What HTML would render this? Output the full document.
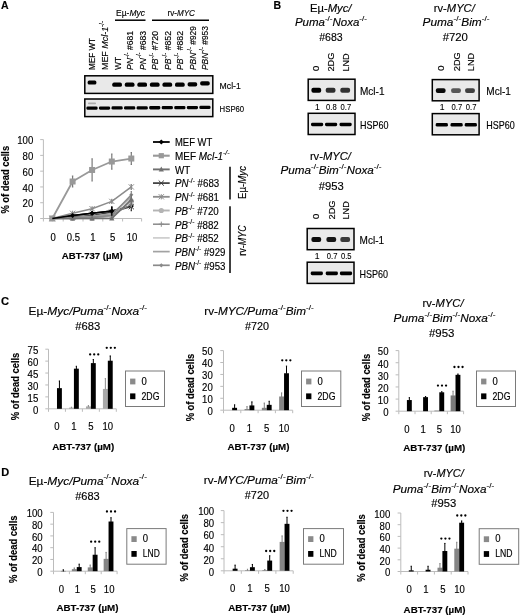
<!DOCTYPE html>
<html><head><meta charset="utf-8"><style>
html,body{margin:0;padding:0;background:#fff;}
body{width:520px;height:615px;overflow:hidden;}
svg{display:block;font-family:"Liberation Sans", sans-serif;filter:blur(0.35px);} text{stroke:#000;stroke-width:0.15px;}
</style></head><body>
<svg width="520" height="615" viewBox="0 0 520 615">
<defs><filter id="bl" x="-30%" y="-80%" width="160%" height="260%"><feGaussianBlur stdDeviation="0.65"/></filter></defs>
<rect width="520" height="615" fill="#fff"/>
<text x="1" y="9" font-size="10.5" text-anchor="start" font-weight="bold" fill="#000"><tspan>A</tspan></text>
<text x="273.5" y="9" font-size="10.5" text-anchor="start" font-weight="bold" fill="#000"><tspan>B</tspan></text>
<text x="0.9" y="305.4" font-size="11.2" text-anchor="start" font-weight="bold" fill="#000"><tspan>C</tspan></text>
<text x="1.3" y="475.8" font-size="11.0" text-anchor="start" font-weight="bold" fill="#000"><tspan>D</tspan></text>
<text x="116" y="15.5" font-size="9.5" text-anchor="start" font-weight="normal" fill="#000" textLength="29" lengthAdjust="spacingAndGlyphs"><tspan>Eµ-</tspan><tspan font-style="italic">Myc</tspan></text>
<text x="167.5" y="15.5" font-size="9.5" text-anchor="start" font-weight="normal" fill="#000" textLength="27.5" lengthAdjust="spacingAndGlyphs"><tspan>rv-</tspan><tspan font-style="italic">MYC</tspan></text>
<line x1="115" y1="20.2" x2="145.5" y2="20.2" stroke="#000" stroke-width="1.5"/>
<line x1="152" y1="20.2" x2="209" y2="20.2" stroke="#000" stroke-width="1.5"/>
<text x="0" y="0" transform="translate(95.4,70) rotate(-90)" font-size="9.2" text-anchor="start" font-weight="normal" fill="#000" textLength="32" lengthAdjust="spacingAndGlyphs"><tspan>MEF WT</tspan></text>
<text x="0" y="0" transform="translate(107.95,70) rotate(-90)" font-size="9.2" text-anchor="start" font-weight="normal" fill="#000" textLength="49" lengthAdjust="spacingAndGlyphs"><tspan>MEF </tspan><tspan font-style="italic">Mcl-1</tspan><tspan font-size="6.44" dy="-4.14">-/-</tspan></text>
<text x="0" y="0" transform="translate(120.5,70) rotate(-90)" font-size="9.2" text-anchor="start" font-weight="normal" fill="#000" textLength="13" lengthAdjust="spacingAndGlyphs"><tspan>WT</tspan></text>
<text x="0" y="0" transform="translate(133.05,70) rotate(-90)" font-size="9.2" text-anchor="start" font-weight="normal" fill="#000" textLength="39" lengthAdjust="spacingAndGlyphs"><tspan font-style="italic">PN</tspan><tspan font-size="6.44" dy="-4.14">-/-</tspan><tspan dy="4.14"> #681</tspan></text>
<text x="0" y="0" transform="translate(145.6,70) rotate(-90)" font-size="9.2" text-anchor="start" font-weight="normal" fill="#000" textLength="39" lengthAdjust="spacingAndGlyphs"><tspan font-style="italic">PN</tspan><tspan font-size="6.44" dy="-4.14">-/-</tspan><tspan dy="4.14"> #683</tspan></text>
<text x="0" y="0" transform="translate(158.15,70) rotate(-90)" font-size="9.2" text-anchor="start" font-weight="normal" fill="#000" textLength="39" lengthAdjust="spacingAndGlyphs"><tspan font-style="italic">PB</tspan><tspan font-size="6.44" dy="-4.14">-/-</tspan><tspan dy="4.14"> #720</tspan></text>
<text x="0" y="0" transform="translate(170.70000000000002,70) rotate(-90)" font-size="9.2" text-anchor="start" font-weight="normal" fill="#000" textLength="39" lengthAdjust="spacingAndGlyphs"><tspan font-style="italic">PB</tspan><tspan font-size="6.44" dy="-4.14">-/-</tspan><tspan dy="4.14"> #852</tspan></text>
<text x="0" y="0" transform="translate(183.25000000000003,70) rotate(-90)" font-size="9.2" text-anchor="start" font-weight="normal" fill="#000" textLength="39" lengthAdjust="spacingAndGlyphs"><tspan font-style="italic">PB</tspan><tspan font-size="6.44" dy="-4.14">-/-</tspan><tspan dy="4.14"> #882</tspan></text>
<text x="0" y="0" transform="translate(195.8,70) rotate(-90)" font-size="9.2" text-anchor="start" font-weight="normal" fill="#000" textLength="44" lengthAdjust="spacingAndGlyphs"><tspan font-style="italic">PBN</tspan><tspan font-size="6.44" dy="-4.14">-/-</tspan><tspan dy="4.14"> #929</tspan></text>
<text x="0" y="0" transform="translate(208.35,70) rotate(-90)" font-size="9.2" text-anchor="start" font-weight="normal" fill="#000" textLength="44" lengthAdjust="spacingAndGlyphs"><tspan font-style="italic">PBN</tspan><tspan font-size="6.44" dy="-4.14">-/-</tspan><tspan dy="4.14"> #953</tspan></text>
<rect x="84.8" y="75.8" width="128" height="17.6" fill="#e9e9e9" stroke="#000" stroke-width="1.5"/>
<rect x="84.8" y="99" width="128" height="17.6" fill="#e9e9e9" stroke="#000" stroke-width="1.5"/>
<rect x="87.60" y="80.60" width="8.80" height="4.00" rx="1.60" fill="#000" opacity="1.0" filter="url(#bl)"/>
<rect x="112.30" y="82.55" width="9.60" height="4.30" rx="1.72" fill="#000" opacity="1.0" filter="url(#bl)"/>
<rect x="124.85" y="82.55" width="9.60" height="4.30" rx="1.72" fill="#000" opacity="1.0" filter="url(#bl)"/>
<rect x="137.40" y="82.55" width="9.60" height="4.30" rx="1.72" fill="#000" opacity="1.0" filter="url(#bl)"/>
<rect x="149.95" y="82.55" width="9.60" height="4.30" rx="1.72" fill="#000" opacity="1.0" filter="url(#bl)"/>
<rect x="162.50" y="82.55" width="9.60" height="4.30" rx="1.72" fill="#000" opacity="1.0" filter="url(#bl)"/>
<rect x="175.05" y="82.55" width="9.60" height="4.30" rx="1.72" fill="#000" opacity="1.0" filter="url(#bl)"/>
<rect x="187.60" y="82.25" width="9.60" height="4.30" rx="1.72" fill="#000" opacity="1.0" filter="url(#bl)"/>
<rect x="200.15" y="81.25" width="9.60" height="4.30" rx="1.72" fill="#000" opacity="1.0" filter="url(#bl)"/>
<rect x="86.40" y="106.45" width="11.20" height="3.30" rx="1.32" fill="#000" opacity="1.0" filter="url(#bl)"/>
<rect x="98.95" y="106.38" width="11.20" height="3.30" rx="1.32" fill="#000" opacity="1.0" filter="url(#bl)"/>
<rect x="111.50" y="106.31" width="11.20" height="3.30" rx="1.32" fill="#000" opacity="1.0" filter="url(#bl)"/>
<rect x="124.05" y="106.24" width="11.20" height="3.30" rx="1.32" fill="#000" opacity="1.0" filter="url(#bl)"/>
<rect x="136.60" y="106.17" width="11.20" height="3.30" rx="1.32" fill="#000" opacity="1.0" filter="url(#bl)"/>
<rect x="149.15" y="106.10" width="11.20" height="3.30" rx="1.32" fill="#000" opacity="1.0" filter="url(#bl)"/>
<rect x="161.70" y="106.03" width="11.20" height="3.30" rx="1.32" fill="#000" opacity="1.0" filter="url(#bl)"/>
<rect x="174.25" y="105.96" width="11.20" height="3.30" rx="1.32" fill="#000" opacity="1.0" filter="url(#bl)"/>
<rect x="186.80" y="105.89" width="11.20" height="3.30" rx="1.32" fill="#000" opacity="1.0" filter="url(#bl)"/>
<rect x="199.35" y="105.82" width="11.20" height="3.30" rx="1.32" fill="#000" opacity="1.0" filter="url(#bl)"/>
<rect x="88.00" y="102.40" width="8.00" height="1.80" rx="0.72" fill="#000" opacity="0.25" filter="url(#bl)"/>
<text x="219.6" y="88.6" font-size="9.8" text-anchor="start" font-weight="normal" fill="#000" textLength="21.2" lengthAdjust="spacingAndGlyphs"><tspan>Mcl-1</tspan></text>
<text x="219.6" y="111.9" font-size="9.8" text-anchor="start" font-weight="normal" fill="#000" textLength="24.6" lengthAdjust="spacingAndGlyphs"><tspan>HSP60</tspan></text>
<line x1="43.4" y1="139.6" x2="43.4" y2="218.5" stroke="#bcbcbc" stroke-width="1"/>
<line x1="40.199999999999996" y1="218.50" x2="43.4" y2="218.50" stroke="#bcbcbc" stroke-width="1"/>
<text x="33.3" y="223.1" font-size="10.5" text-anchor="end" font-weight="normal" fill="#000" textLength="5.35" lengthAdjust="spacingAndGlyphs"><tspan>0</tspan></text>
<line x1="40.199999999999996" y1="202.72" x2="43.4" y2="202.72" stroke="#bcbcbc" stroke-width="1"/>
<text x="33.3" y="207.32" font-size="10.5" text-anchor="end" font-weight="normal" fill="#000" textLength="10.7" lengthAdjust="spacingAndGlyphs"><tspan>20</tspan></text>
<line x1="40.199999999999996" y1="186.94" x2="43.4" y2="186.94" stroke="#bcbcbc" stroke-width="1"/>
<text x="33.3" y="191.54" font-size="10.5" text-anchor="end" font-weight="normal" fill="#000" textLength="10.7" lengthAdjust="spacingAndGlyphs"><tspan>40</tspan></text>
<line x1="40.199999999999996" y1="171.16" x2="43.4" y2="171.16" stroke="#bcbcbc" stroke-width="1"/>
<text x="33.3" y="175.76" font-size="10.5" text-anchor="end" font-weight="normal" fill="#000" textLength="10.7" lengthAdjust="spacingAndGlyphs"><tspan>60</tspan></text>
<line x1="40.199999999999996" y1="155.38" x2="43.4" y2="155.38" stroke="#bcbcbc" stroke-width="1"/>
<text x="33.3" y="159.98" font-size="10.5" text-anchor="end" font-weight="normal" fill="#000" textLength="10.7" lengthAdjust="spacingAndGlyphs"><tspan>80</tspan></text>
<line x1="40.199999999999996" y1="139.60" x2="43.4" y2="139.60" stroke="#bcbcbc" stroke-width="1"/>
<text x="33.3" y="144.2" font-size="10.5" text-anchor="end" font-weight="normal" fill="#000" textLength="16.049999999999997" lengthAdjust="spacingAndGlyphs"><tspan>100</tspan></text>
<line x1="43.4" y1="218.5" x2="141.6" y2="218.5" stroke="#bcbcbc" stroke-width="1"/>
<line x1="43.40" y1="218.5" x2="43.40" y2="221.5" stroke="#bcbcbc" stroke-width="1"/>
<line x1="63.20" y1="218.5" x2="63.20" y2="221.5" stroke="#bcbcbc" stroke-width="1"/>
<line x1="83.00" y1="218.5" x2="83.00" y2="221.5" stroke="#bcbcbc" stroke-width="1"/>
<line x1="102.80" y1="218.5" x2="102.80" y2="221.5" stroke="#bcbcbc" stroke-width="1"/>
<line x1="122.60" y1="218.5" x2="122.60" y2="221.5" stroke="#bcbcbc" stroke-width="1"/>
<line x1="141.60" y1="218.5" x2="141.60" y2="221.5" stroke="#bcbcbc" stroke-width="1"/>
<text x="53.099999999999994" y="240.5" font-size="10.4" text-anchor="middle" font-weight="normal" fill="#000" textLength="5.3" lengthAdjust="spacingAndGlyphs"><tspan>0</tspan></text>
<text x="73.39999999999999" y="240.5" font-size="10.4" text-anchor="middle" font-weight="normal" fill="#000" textLength="13.2" lengthAdjust="spacingAndGlyphs"><tspan>0.5</tspan></text>
<text x="92.89999999999999" y="240.5" font-size="10.4" text-anchor="middle" font-weight="normal" fill="#000" textLength="5.3" lengthAdjust="spacingAndGlyphs"><tspan>1</tspan></text>
<text x="112.6" y="240.5" font-size="10.4" text-anchor="middle" font-weight="normal" fill="#000" textLength="5.3" lengthAdjust="spacingAndGlyphs"><tspan>5</tspan></text>
<text x="132.10000000000002" y="240.5" font-size="10.4" text-anchor="middle" font-weight="normal" fill="#000" textLength="10.6" lengthAdjust="spacingAndGlyphs"><tspan>10</tspan></text>
<text x="92.3" y="259.4" font-size="9.8" text-anchor="middle" font-weight="bold" fill="#000" textLength="61" lengthAdjust="spacingAndGlyphs"><tspan>ABT-737 (µM)</tspan></text>
<text x="0" y="0" transform="translate(9.0,213.6) rotate(-90)" font-size="10.4" text-anchor="start" font-weight="bold" fill="#000" textLength="67.8" lengthAdjust="spacingAndGlyphs"><tspan>% of dead cells</tspan></text>
<path d="M52.30 218.50L72.60 215.50L92.10 213.29L111.80 211.08L131.30 205.88" fill="none" stroke="#000000" stroke-width="1.5" stroke-linejoin="round"/>
<path d="M52.3 215.9L54.9 218.5L52.3 221.1L49.699999999999996 218.5Z" fill="#000000"/>
<path d="M72.6 212.9018L75.19999999999999 215.5018L72.6 218.1018L70.0 215.5018Z" fill="#000000"/>
<path d="M92.1 212.50L92.1 214.08M91.39999999999999 212.50L92.8 212.50M91.39999999999999 214.08L92.8 214.08" stroke="#000000" stroke-width="1.2"/>
<path d="M92.1 210.6926L94.69999999999999 213.2926L92.1 215.8926L89.5 213.2926Z" fill="#000000"/>
<path d="M111.8 207.14L111.8 215.03M111.1 207.14L112.5 207.14M111.1 215.03L112.5 215.03" stroke="#000000" stroke-width="1.2"/>
<path d="M111.8 208.48340000000002L114.39999999999999 211.0834L111.8 213.6834L109.2 211.0834Z" fill="#000000"/>
<path d="M131.3 203.276L133.9 205.876L131.3 208.476L128.70000000000002 205.876Z" fill="#000000"/>
<path d="M52.30 218.50L72.60 216.92L92.10 215.34L111.80 212.19L131.30 206.66" fill="none" stroke="#3a3a3a" stroke-width="1.4" stroke-linejoin="round"/>
<path d="M49.699999999999996 215.9L54.9 221.1M54.9 215.9L49.699999999999996 221.1" stroke="#3a3a3a" stroke-width="1"/>
<path d="M72.6 216.13L72.6 217.71M71.89999999999999 216.13L73.3 216.13M71.89999999999999 217.71L73.3 217.71" stroke="#3a3a3a" stroke-width="1.2"/>
<path d="M70.0 214.322L75.19999999999999 219.522M75.19999999999999 214.322L70.0 219.522" stroke="#3a3a3a" stroke-width="1"/>
<path d="M92.1 214.56L92.1 216.13M91.39999999999999 214.56L92.8 214.56M91.39999999999999 216.13L92.8 216.13" stroke="#3a3a3a" stroke-width="1.2"/>
<path d="M89.5 212.744L94.69999999999999 217.944M94.69999999999999 212.744L89.5 217.944" stroke="#3a3a3a" stroke-width="1"/>
<path d="M111.8 210.61L111.8 213.77M111.1 210.61L112.5 210.61M111.1 213.77L112.5 213.77" stroke="#3a3a3a" stroke-width="1.2"/>
<path d="M109.2 209.588L114.39999999999999 214.78799999999998M114.39999999999999 209.588L109.2 214.78799999999998" stroke="#3a3a3a" stroke-width="1"/>
<path d="M131.3 202.72L131.3 210.61M130.60000000000002 202.72L132.0 202.72M130.60000000000002 210.61L132.0 210.61" stroke="#3a3a3a" stroke-width="1.2"/>
<path d="M128.70000000000002 204.065L133.9 209.265M133.9 204.065L128.70000000000002 209.265" stroke="#3a3a3a" stroke-width="1"/>
<path d="M52.30 218.50L72.60 217.71L92.10 216.92L111.80 214.56L131.30 197.99" fill="none" stroke="#cdcdcd" stroke-width="1.4" stroke-linejoin="round"/>
<path d="M111.8 213.77L111.8 215.34M111.1 213.77L112.5 213.77M111.1 215.34L112.5 215.34" stroke="#cdcdcd" stroke-width="1.2"/>
<path d="M131.3 195.62L131.3 200.35M130.60000000000002 195.62L132.0 195.62M130.60000000000002 200.35L132.0 200.35" stroke="#cdcdcd" stroke-width="1.2"/>
<path d="M52.30 218.50L72.60 217.71L92.10 216.13L111.80 213.77L131.30 196.41" fill="none" stroke="#a2a2a2" stroke-width="1.4" stroke-linejoin="round"/>
<path d="M111.8 212.98L111.8 214.55M111.1 212.98L112.5 212.98M111.1 214.55L112.5 214.55" stroke="#a2a2a2" stroke-width="1.2"/>
<path d="M131.3 194.04L131.3 198.77M130.60000000000002 194.04L132.0 194.04M130.60000000000002 198.77L132.0 198.77" stroke="#a2a2a2" stroke-width="1.2"/>
<path d="M52.30 218.50L72.60 218.50L92.10 218.50L111.80 216.13L131.30 201.14" fill="none" stroke="#b4b4b4" stroke-width="1.6" stroke-linejoin="round"/>
<circle cx="52.3" cy="218.5" r="2.6" fill="#b4b4b4"/>
<circle cx="72.6" cy="218.5" r="2.6" fill="#b4b4b4"/>
<circle cx="92.1" cy="218.5" r="2.6" fill="#b4b4b4"/>
<path d="M111.8 215.34L111.8 216.92M111.1 215.34L112.5 215.34M111.1 216.92L112.5 216.92" stroke="#b4b4b4" stroke-width="1.2"/>
<circle cx="111.8" cy="216.133" r="2.6" fill="#b4b4b4"/>
<path d="M131.3 198.78L131.3 203.51M130.60000000000002 198.78L132.0 198.78M130.60000000000002 203.51L132.0 203.51" stroke="#b4b4b4" stroke-width="1.2"/>
<circle cx="131.3" cy="201.142" r="2.6" fill="#b4b4b4"/>
<path d="M52.30 218.50L72.60 217.71L92.10 216.92L111.80 215.34L131.30 204.30" fill="none" stroke="#8a8a8a" stroke-width="1.2" stroke-linejoin="round"/>
<path d="M49.699999999999996 218.5L54.9 218.5M52.3 215.9L52.3 221.1" stroke="#8a8a8a" stroke-width="1"/>
<path d="M70.0 217.711L75.19999999999999 217.711M72.6 215.11100000000002L72.6 220.311" stroke="#8a8a8a" stroke-width="1"/>
<path d="M89.5 216.922L94.69999999999999 216.922M92.1 214.322L92.1 219.522" stroke="#8a8a8a" stroke-width="1"/>
<path d="M111.8 214.56L111.8 216.13M111.1 214.56L112.5 214.56M111.1 216.13L112.5 216.13" stroke="#8a8a8a" stroke-width="1.2"/>
<path d="M109.2 215.344L114.39999999999999 215.344M111.8 212.744L111.8 217.944" stroke="#8a8a8a" stroke-width="1"/>
<path d="M131.3 201.93L131.3 206.66M130.60000000000002 201.93L132.0 201.93M130.60000000000002 206.66L132.0 206.66" stroke="#8a8a8a" stroke-width="1.2"/>
<path d="M128.70000000000002 204.298L133.9 204.298M131.3 201.698L131.3 206.898" stroke="#8a8a8a" stroke-width="1"/>
<path d="M52.30 218.50L72.60 218.50L92.10 217.71L111.80 215.34L131.30 194.83" fill="none" stroke="#8a8a8a" stroke-width="1.4" stroke-linejoin="round"/>
<path d="M52.3 216.42L54.379999999999995 218.5L52.3 220.58L50.22 218.5Z" fill="#8a8a8a"/>
<path d="M72.6 216.42L74.67999999999999 218.5L72.6 220.58L70.52 218.5Z" fill="#8a8a8a"/>
<path d="M92.1 215.631L94.17999999999999 217.711L92.1 219.79100000000003L90.02 217.711Z" fill="#8a8a8a"/>
<path d="M111.8 214.56L111.8 216.13M111.1 214.56L112.5 214.56M111.1 216.13L112.5 216.13" stroke="#8a8a8a" stroke-width="1.2"/>
<path d="M111.8 213.26399999999998L113.88 215.344L111.8 217.424L109.72 215.344Z" fill="#8a8a8a"/>
<path d="M131.3 191.67L131.3 197.99M130.60000000000002 191.67L132.0 191.67M130.60000000000002 197.99L132.0 197.99" stroke="#8a8a8a" stroke-width="1.2"/>
<path d="M131.3 192.74999999999997L133.38000000000002 194.82999999999998L131.3 196.91L129.22 194.82999999999998Z" fill="#8a8a8a"/>
<path d="M52.30 218.50L72.60 218.50L92.10 218.50L111.80 218.50L131.30 199.56" fill="none" stroke="#707070" stroke-width="1.6" stroke-linejoin="round"/>
<path d="M52.3 215.5L54.9 220.58L49.699999999999996 220.58Z" fill="#707070"/>
<path d="M72.6 215.5L75.19999999999999 220.58L70.0 220.58Z" fill="#707070"/>
<path d="M92.1 215.5L94.69999999999999 220.58L89.5 220.58Z" fill="#707070"/>
<path d="M111.8 217.71L111.8 219.29M111.1 217.71L112.5 217.71M111.1 219.29L112.5 219.29" stroke="#707070" stroke-width="1.2"/>
<path d="M111.8 215.5L114.39999999999999 220.58L109.2 220.58Z" fill="#707070"/>
<path d="M131.3 194.83L131.3 204.30M130.60000000000002 194.83L132.0 194.83M130.60000000000002 204.30L132.0 204.30" stroke="#707070" stroke-width="1.2"/>
<path d="M131.3 196.564L133.9 201.644L128.70000000000002 201.644Z" fill="#707070"/>
<path d="M52.30 218.50L72.60 213.29L92.10 208.72L111.80 201.38L131.30 186.94" fill="none" stroke="#8c8c8c" stroke-width="1.5" stroke-linejoin="round"/>
<path d="M49.699999999999996 215.9L54.9 221.1M54.9 215.9L49.699999999999996 221.1M52.3 215.9L52.3 221.1" stroke="#8c8c8c" stroke-width="1"/>
<path d="M72.6 212.50L72.6 214.08M71.89999999999999 212.50L73.3 212.50M71.89999999999999 214.08L73.3 214.08" stroke="#8c8c8c" stroke-width="1.2"/>
<path d="M70.0 210.6926L75.19999999999999 215.8926M75.19999999999999 210.6926L70.0 215.8926M72.6 210.6926L72.6 215.8926" stroke="#8c8c8c" stroke-width="1"/>
<path d="M92.1 207.93L92.1 209.51M91.39999999999999 207.93L92.8 207.93M91.39999999999999 209.51L92.8 209.51" stroke="#8c8c8c" stroke-width="1.2"/>
<path d="M89.5 206.1164L94.69999999999999 211.3164M94.69999999999999 206.1164L89.5 211.3164M92.1 206.1164L92.1 211.3164" stroke="#8c8c8c" stroke-width="1"/>
<path d="M111.8 199.80L111.8 202.96M111.1 199.80L112.5 199.80M111.1 202.96L112.5 202.96" stroke="#8c8c8c" stroke-width="1.2"/>
<path d="M109.2 198.77870000000001L114.39999999999999 203.9787M114.39999999999999 198.77870000000001L109.2 203.9787M111.8 198.77870000000001L111.8 203.9787" stroke="#8c8c8c" stroke-width="1"/>
<path d="M131.3 184.57L131.3 189.31M130.60000000000002 184.57L132.0 184.57M130.60000000000002 189.31L132.0 189.31" stroke="#8c8c8c" stroke-width="1.2"/>
<path d="M128.70000000000002 184.34L133.9 189.54M133.9 184.34L128.70000000000002 189.54M131.3 184.34L131.3 189.54" stroke="#8c8c8c" stroke-width="1"/>
<path d="M52.30 218.50L72.60 181.50L92.10 169.98L111.80 161.53L131.30 158.54" fill="none" stroke="#999999" stroke-width="1.8" stroke-linejoin="round"/>
<rect x="49.3" y="215.5" width="6.0" height="6.0" fill="#999999"/>
<path d="M72.6 176.13L72.6 186.86M71.89999999999999 176.13L73.3 176.13M71.89999999999999 186.86L73.3 186.86" stroke="#7a7a7a" stroke-width="1.2"/>
<rect x="69.6" y="178.4959" width="6.0" height="6.0" fill="#999999"/>
<path d="M92.1 158.93L92.1 181.02M91.39999999999999 158.93L92.8 158.93M91.39999999999999 181.02L92.8 181.02" stroke="#7a7a7a" stroke-width="1.2"/>
<rect x="89.1" y="166.9765" width="6.0" height="6.0" fill="#999999"/>
<path d="M111.8 154.04L111.8 169.03M111.1 154.04L112.5 154.04M111.1 169.03L112.5 169.03" stroke="#7a7a7a" stroke-width="1.2"/>
<rect x="108.8" y="158.5342" width="6.0" height="6.0" fill="#999999"/>
<path d="M131.3 152.70L131.3 164.37M130.60000000000002 152.70L132.0 152.70M130.60000000000002 164.37L132.0 164.37" stroke="#7a7a7a" stroke-width="1.2"/>
<rect x="128.3" y="155.536" width="6.0" height="6.0" fill="#999999"/>
<path d="M52.30 218.50L72.60 215.50L92.10 213.29L111.80 211.08" fill="none" stroke="#000" stroke-width="1.5" stroke-linejoin="round"/>
<path d="M72.6 212.9018L75.19999999999999 215.5018L72.6 218.1018L70.0 215.5018Z" fill="#000"/>
<path d="M92.1 212.50L92.1 214.08M91.39999999999999 212.50L92.8 212.50M91.39999999999999 214.08L92.8 214.08" stroke="#000" stroke-width="1.2"/>
<path d="M92.1 210.6926L94.69999999999999 213.2926L92.1 215.8926L89.5 213.2926Z" fill="#000"/>
<path d="M111.8 207.14L111.8 215.03M111.1 207.14L112.5 207.14M111.1 215.03L112.5 215.03" stroke="#000" stroke-width="1.2"/>
<path d="M111.8 208.48340000000002L114.39999999999999 211.0834L111.8 213.6834L109.2 211.0834Z" fill="#000"/>
<line x1="153" y1="142.00" x2="169.7" y2="142.00" stroke="#000000" stroke-width="1.8"/>
<path d="M161.3 139.4L163.9 142.0L161.3 144.6L158.70000000000002 142.0Z" fill="#000000"/>
<text x="175" y="146.3" font-size="10.2" text-anchor="start" font-weight="normal" fill="#000" textLength="37.2" lengthAdjust="spacingAndGlyphs"><tspan>MEF WT</tspan></text>
<line x1="153" y1="155.70" x2="169.7" y2="155.70" stroke="#999999" stroke-width="2.1"/>
<rect x="158.70000000000002" y="153.1" width="5.2" height="5.2" fill="#999999"/>
<text x="175" y="160.0" font-size="10.2" text-anchor="start" font-weight="normal" fill="#000" textLength="54.6" lengthAdjust="spacingAndGlyphs"><tspan>MEF </tspan><tspan font-style="italic">Mcl-1</tspan><tspan font-size="7.14" font-style="italic" dy="-4.59">-/-</tspan></text>
<line x1="153" y1="169.40" x2="169.7" y2="169.40" stroke="#707070" stroke-width="1.9000000000000001"/>
<path d="M161.3 166.4L163.9 171.48000000000002L158.70000000000002 171.48000000000002Z" fill="#707070"/>
<text x="175" y="173.70000000000002" font-size="10.2" text-anchor="start" font-weight="normal" fill="#000" textLength="15.3" lengthAdjust="spacingAndGlyphs"><tspan>WT</tspan></text>
<line x1="153" y1="183.10" x2="169.7" y2="183.10" stroke="#3a3a3a" stroke-width="1.7"/>
<path d="M158.70000000000002 180.5L163.9 185.7M163.9 180.5L158.70000000000002 185.7" stroke="#3a3a3a" stroke-width="1"/>
<text x="175" y="187.4" font-size="10.2" text-anchor="start" font-weight="normal" fill="#000" textLength="44.2" lengthAdjust="spacingAndGlyphs"><tspan font-style="italic">PN</tspan><tspan font-size="7.14" dy="-4.59">-/-</tspan><tspan dy="4.59"> #683</tspan></text>
<line x1="153" y1="196.80" x2="169.7" y2="196.80" stroke="#8c8c8c" stroke-width="1.8"/>
<path d="M158.70000000000002 194.20000000000002L163.9 199.4M163.9 194.20000000000002L158.70000000000002 199.4M161.3 194.20000000000002L161.3 199.4" stroke="#8c8c8c" stroke-width="1"/>
<text x="175" y="201.10000000000002" font-size="10.2" text-anchor="start" font-weight="normal" fill="#000" textLength="44" lengthAdjust="spacingAndGlyphs"><tspan font-style="italic">PN</tspan><tspan font-size="7.14" dy="-4.59">-/-</tspan><tspan dy="4.59"> #681</tspan></text>
<line x1="153" y1="210.50" x2="169.7" y2="210.50" stroke="#b4b4b4" stroke-width="1.9000000000000001"/>
<circle cx="161.3" cy="210.5" r="2.6" fill="#b4b4b4"/>
<text x="175" y="214.8" font-size="10.2" text-anchor="start" font-weight="normal" fill="#000" textLength="43.8" lengthAdjust="spacingAndGlyphs"><tspan font-style="italic">PB</tspan><tspan font-size="7.14" dy="-4.59">-/-</tspan><tspan dy="4.59"> #720</tspan></text>
<line x1="153" y1="224.20" x2="169.7" y2="224.20" stroke="#8a8a8a" stroke-width="1.5"/>
<path d="M158.70000000000002 224.2L163.9 224.2M161.3 221.6L161.3 226.79999999999998" stroke="#8a8a8a" stroke-width="1"/>
<text x="175" y="228.5" font-size="10.2" text-anchor="start" font-weight="normal" fill="#000" textLength="43.8" lengthAdjust="spacingAndGlyphs"><tspan font-style="italic">PB</tspan><tspan font-size="7.14" dy="-4.59">-/-</tspan><tspan dy="4.59"> #882</tspan></text>
<line x1="153" y1="237.90" x2="169.7" y2="237.90" stroke="#cdcdcd" stroke-width="1.7"/>
<text x="175" y="242.2" font-size="10.2" text-anchor="start" font-weight="normal" fill="#000" textLength="43.8" lengthAdjust="spacingAndGlyphs"><tspan font-style="italic">PB</tspan><tspan font-size="7.14" dy="-4.59">-/-</tspan><tspan dy="4.59"> #852</tspan></text>
<line x1="153" y1="251.60" x2="169.7" y2="251.60" stroke="#a2a2a2" stroke-width="1.7"/>
<text x="175" y="255.9" font-size="10.2" text-anchor="start" font-weight="normal" fill="#000" textLength="50.5" lengthAdjust="spacingAndGlyphs"><tspan font-style="italic">PBN</tspan><tspan font-size="7.14" dy="-4.59">-/-</tspan><tspan dy="4.59"> #929</tspan></text>
<line x1="153" y1="265.30" x2="169.7" y2="265.30" stroke="#8a8a8a" stroke-width="1.7"/>
<path d="M161.3 263.22L163.38000000000002 265.3L161.3 267.38L159.22 265.3Z" fill="#8a8a8a"/>
<text x="175" y="269.6" font-size="10.2" text-anchor="start" font-weight="normal" fill="#000" textLength="50.5" lengthAdjust="spacingAndGlyphs"><tspan font-style="italic">PBN</tspan><tspan font-size="7.14" dy="-4.59">-/-</tspan><tspan dy="4.59"> #953</tspan></text>
<line x1="230" y1="166.7" x2="230" y2="199.4" stroke="#000" stroke-width="1.5"/>
<line x1="230" y1="206.3" x2="230" y2="273" stroke="#000" stroke-width="1.5"/>
<text x="0" y="0" transform="translate(246.4,182.5) rotate(-90)" font-size="10.6" text-anchor="middle" font-weight="normal" fill="#000" textLength="33" lengthAdjust="spacingAndGlyphs"><tspan>Eµ-</tspan><tspan font-style="italic">Myc</tspan></text>
<text x="0" y="0" transform="translate(246.4,240.4) rotate(-90)" font-size="10.6" text-anchor="middle" font-weight="normal" fill="#000" textLength="30.5" lengthAdjust="spacingAndGlyphs"><tspan>rv-</tspan><tspan font-style="italic">MYC</tspan></text>
<text x="330.7" y="11.5" font-size="11.3" text-anchor="middle" font-weight="normal" fill="#000" textLength="41.5" lengthAdjust="spacingAndGlyphs"><tspan>Eµ-</tspan><tspan font-style="italic">Myc/</tspan></text>
<text x="330.9" y="26.0" font-size="11.3" text-anchor="middle" font-weight="normal" fill="#000" textLength="72" lengthAdjust="spacingAndGlyphs"><tspan font-style="italic">Puma</tspan><tspan font-size="7.91" dy="-5.09">-/-</tspan><tspan font-style="italic" dy="5.09">Noxa</tspan><tspan font-size="7.91" dy="-5.09">-/-</tspan></text>
<text x="331.0" y="40.8" font-size="11.3" text-anchor="middle" font-weight="normal" fill="#000" textLength="23.5" lengthAdjust="spacingAndGlyphs"><tspan>#683</tspan></text>
<text x="0" y="0" transform="translate(319.3,71.3) rotate(-90)" font-size="9.0" text-anchor="start" font-weight="normal" fill="#000" textLength="5.6" lengthAdjust="spacingAndGlyphs"><tspan>0</tspan></text>
<text x="0" y="0" transform="translate(334.1,71.6) rotate(-90)" font-size="9.0" text-anchor="start" font-weight="normal" fill="#000" textLength="19" lengthAdjust="spacingAndGlyphs"><tspan>2DG</tspan></text>
<text x="0" y="0" transform="translate(348.6,71.6) rotate(-90)" font-size="9.0" text-anchor="start" font-weight="normal" fill="#000" textLength="18.3" lengthAdjust="spacingAndGlyphs"><tspan>LND</tspan></text>
<rect x="308.2" y="79.2" width="46.8" height="21.2" fill="#e9e9e9" stroke="#000" stroke-width="1.5"/>
<rect x="308.2" y="113.3" width="46.8" height="21.2" fill="#e9e9e9" stroke="#000" stroke-width="1.5"/>
<rect x="311.40" y="87.75" width="9.80" height="4.90" rx="1.96" fill="#000" opacity="1.0" filter="url(#bl)"/>
<rect x="325.70" y="87.75" width="9.80" height="4.90" rx="1.96" fill="#000" opacity="0.8" filter="url(#bl)"/>
<rect x="340.30" y="87.75" width="9.80" height="4.90" rx="1.96" fill="#000" opacity="0.78" filter="url(#bl)"/>
<rect x="311.00" y="122.70" width="12.20" height="3.60" rx="1.44" fill="#000" opacity="1.0" filter="url(#bl)"/>
<rect x="325.00" y="122.70" width="12.20" height="3.60" rx="1.44" fill="#000" opacity="1.0" filter="url(#bl)"/>
<rect x="339.50" y="122.70" width="12.20" height="3.60" rx="1.44" fill="#000" opacity="1.0" filter="url(#bl)"/>
<text x="317.4" y="109.6" font-size="8.6" text-anchor="middle" font-weight="normal" fill="#000" style="stroke-width:0.1px"><tspan>1</tspan></text>
<text x="331.4" y="109.6" font-size="8.6" text-anchor="middle" font-weight="normal" fill="#000" textLength="10.6" lengthAdjust="spacingAndGlyphs" style="stroke-width:0.1px"><tspan>0.8</tspan></text>
<text x="345.9" y="109.6" font-size="8.6" text-anchor="middle" font-weight="normal" fill="#000" textLength="10.6" lengthAdjust="spacingAndGlyphs" style="stroke-width:0.1px"><tspan>0.7</tspan></text>
<text x="360.0" y="94.5" font-size="10.5" text-anchor="start" font-weight="normal" fill="#000" textLength="24.5" lengthAdjust="spacingAndGlyphs"><tspan>Mcl-1</tspan></text>
<text x="360.0" y="128.9" font-size="10.5" text-anchor="start" font-weight="normal" fill="#000" textLength="28.5" lengthAdjust="spacingAndGlyphs"><tspan>HSP60</tspan></text>
<text x="454.3" y="11.6" font-size="11.3" text-anchor="middle" font-weight="normal" fill="#000" textLength="41" lengthAdjust="spacingAndGlyphs"><tspan>rv-</tspan><tspan font-style="italic">MYC/</tspan></text>
<text x="456.0" y="25.6" font-size="11.3" text-anchor="middle" font-weight="normal" fill="#000" textLength="67" lengthAdjust="spacingAndGlyphs"><tspan font-style="italic">Puma</tspan><tspan font-size="7.91" dy="-5.09">-/-</tspan><tspan font-style="italic" dy="5.09">Bim</tspan><tspan font-size="7.91" dy="-5.09">-/-</tspan></text>
<text x="455.3" y="41.0" font-size="11.3" text-anchor="middle" font-weight="normal" fill="#000" textLength="25.3" lengthAdjust="spacingAndGlyphs"><tspan>#720</tspan></text>
<text x="0" y="0" transform="translate(444.0,70.9) rotate(-90)" font-size="9.0" text-anchor="start" font-weight="normal" fill="#000" textLength="5.6" lengthAdjust="spacingAndGlyphs"><tspan>0</tspan></text>
<text x="0" y="0" transform="translate(459.6,71.2) rotate(-90)" font-size="9.0" text-anchor="start" font-weight="normal" fill="#000" textLength="19" lengthAdjust="spacingAndGlyphs"><tspan>2DG</tspan></text>
<text x="0" y="0" transform="translate(473.8,71.2) rotate(-90)" font-size="9.0" text-anchor="start" font-weight="normal" fill="#000" textLength="18.3" lengthAdjust="spacingAndGlyphs"><tspan>LND</tspan></text>
<rect x="432.3" y="79.6" width="46.8" height="21.2" fill="#e9e9e9" stroke="#000" stroke-width="1.5"/>
<rect x="432.3" y="113.6" width="46.8" height="21.2" fill="#e9e9e9" stroke="#000" stroke-width="1.5"/>
<rect x="435.80" y="88.15" width="9.80" height="4.90" rx="1.96" fill="#000" opacity="0.95" filter="url(#bl)"/>
<rect x="451.10" y="88.15" width="9.80" height="4.90" rx="1.96" fill="#000" opacity="0.62" filter="url(#bl)"/>
<rect x="465.10" y="88.15" width="9.80" height="4.90" rx="1.96" fill="#000" opacity="0.72" filter="url(#bl)"/>
<rect x="435.70" y="123.00" width="12.20" height="3.60" rx="1.44" fill="#000" opacity="1.0" filter="url(#bl)"/>
<rect x="450.50" y="123.00" width="12.20" height="3.60" rx="1.44" fill="#000" opacity="1.0" filter="url(#bl)"/>
<rect x="464.70" y="123.00" width="12.20" height="3.60" rx="1.44" fill="#000" opacity="1.0" filter="url(#bl)"/>
<text x="442.09999999999997" y="109.6" font-size="8.6" text-anchor="middle" font-weight="normal" fill="#000" style="stroke-width:0.1px"><tspan>1</tspan></text>
<text x="456.9" y="109.6" font-size="8.6" text-anchor="middle" font-weight="normal" fill="#000" textLength="10.6" lengthAdjust="spacingAndGlyphs" style="stroke-width:0.1px"><tspan>0.7</tspan></text>
<text x="471.09999999999997" y="109.6" font-size="8.6" text-anchor="middle" font-weight="normal" fill="#000" textLength="10.6" lengthAdjust="spacingAndGlyphs" style="stroke-width:0.1px"><tspan>0.7</tspan></text>
<text x="486.3" y="94.89999999999999" font-size="10.5" text-anchor="start" font-weight="normal" fill="#000" textLength="24.5" lengthAdjust="spacingAndGlyphs"><tspan>Mcl-1</tspan></text>
<text x="486.3" y="129.2" font-size="10.5" text-anchor="start" font-weight="normal" fill="#000" textLength="28.5" lengthAdjust="spacingAndGlyphs"><tspan>HSP60</tspan></text>
<text x="330.4" y="159.5" font-size="11.3" text-anchor="middle" font-weight="normal" fill="#000" textLength="41" lengthAdjust="spacingAndGlyphs"><tspan>rv-</tspan><tspan font-style="italic">MYC/</tspan></text>
<text x="331.0" y="174.4" font-size="11.3" text-anchor="middle" font-weight="normal" fill="#000" textLength="101" lengthAdjust="spacingAndGlyphs"><tspan font-style="italic">Puma</tspan><tspan font-size="7.91" dy="-5.09">-/-</tspan><tspan font-style="italic" dy="5.09">Bim</tspan><tspan font-size="7.91" dy="-5.09">-/-</tspan><tspan font-style="italic" dy="5.09">Noxa</tspan><tspan font-size="7.91" dy="-5.09">-/-</tspan></text>
<text x="331.2" y="189.5" font-size="11.3" text-anchor="middle" font-weight="normal" fill="#000" textLength="25" lengthAdjust="spacingAndGlyphs"><tspan>#953</tspan></text>
<text x="0" y="0" transform="translate(319.0,219.2) rotate(-90)" font-size="9.0" text-anchor="start" font-weight="normal" fill="#000" textLength="5.6" lengthAdjust="spacingAndGlyphs"><tspan>0</tspan></text>
<text x="0" y="0" transform="translate(334.8,219.5) rotate(-90)" font-size="9.0" text-anchor="start" font-weight="normal" fill="#000" textLength="19" lengthAdjust="spacingAndGlyphs"><tspan>2DG</tspan></text>
<text x="0" y="0" transform="translate(349.0,219.5) rotate(-90)" font-size="9.0" text-anchor="start" font-weight="normal" fill="#000" textLength="18.3" lengthAdjust="spacingAndGlyphs"><tspan>LND</tspan></text>
<rect x="307.2" y="228.5" width="46.8" height="21.2" fill="#e9e9e9" stroke="#000" stroke-width="1.5"/>
<rect x="307.2" y="262.2" width="46.8" height="21.2" fill="#e9e9e9" stroke="#000" stroke-width="1.5"/>
<rect x="311.40" y="237.05" width="9.80" height="4.90" rx="1.96" fill="#000" opacity="0.95" filter="url(#bl)"/>
<rect x="326.40" y="237.05" width="9.80" height="4.90" rx="1.96" fill="#000" opacity="0.9" filter="url(#bl)"/>
<rect x="340.30" y="237.05" width="9.80" height="4.90" rx="1.96" fill="#000" opacity="0.75" filter="url(#bl)"/>
<rect x="310.70" y="271.60" width="12.20" height="3.60" rx="1.44" fill="#000" opacity="1.0" filter="url(#bl)"/>
<rect x="325.70" y="271.60" width="12.20" height="3.60" rx="1.44" fill="#000" opacity="1.0" filter="url(#bl)"/>
<rect x="339.90" y="271.60" width="12.20" height="3.60" rx="1.44" fill="#000" opacity="1.0" filter="url(#bl)"/>
<text x="317.09999999999997" y="259.3" font-size="8.6" text-anchor="middle" font-weight="normal" fill="#000" style="stroke-width:0.1px"><tspan>1</tspan></text>
<text x="332.09999999999997" y="259.3" font-size="8.6" text-anchor="middle" font-weight="normal" fill="#000" textLength="10.6" lengthAdjust="spacingAndGlyphs" style="stroke-width:0.1px"><tspan>0.7</tspan></text>
<text x="346.29999999999995" y="259.3" font-size="8.6" text-anchor="middle" font-weight="normal" fill="#000" textLength="10.6" lengthAdjust="spacingAndGlyphs" style="stroke-width:0.1px"><tspan>0.5</tspan></text>
<text x="359.6" y="243.8" font-size="10.5" text-anchor="start" font-weight="normal" fill="#000" textLength="24.5" lengthAdjust="spacingAndGlyphs"><tspan>Mcl-1</tspan></text>
<text x="359.6" y="277.8" font-size="10.5" text-anchor="start" font-weight="normal" fill="#000" textLength="28.5" lengthAdjust="spacingAndGlyphs"><tspan>HSP60</tspan></text>
<line x1="48.5" y1="349.2" x2="48.5" y2="408.8" stroke="#bcbcbc" stroke-width="1"/>
<line x1="45.3" y1="408.80" x2="48.5" y2="408.80" stroke="#bcbcbc" stroke-width="1"/>
<text x="38.3" y="413.6" font-size="10.5" text-anchor="end" font-weight="normal" fill="#000" textLength="5.35" lengthAdjust="spacingAndGlyphs"><tspan>0</tspan></text>
<line x1="45.3" y1="396.88" x2="48.5" y2="396.88" stroke="#bcbcbc" stroke-width="1"/>
<text x="38.3" y="401.68" font-size="10.5" text-anchor="end" font-weight="normal" fill="#000" textLength="10.7" lengthAdjust="spacingAndGlyphs"><tspan>15</tspan></text>
<line x1="45.3" y1="384.96" x2="48.5" y2="384.96" stroke="#bcbcbc" stroke-width="1"/>
<text x="38.3" y="389.76" font-size="10.5" text-anchor="end" font-weight="normal" fill="#000" textLength="10.7" lengthAdjust="spacingAndGlyphs"><tspan>30</tspan></text>
<line x1="45.3" y1="373.04" x2="48.5" y2="373.04" stroke="#bcbcbc" stroke-width="1"/>
<text x="38.3" y="377.84000000000003" font-size="10.5" text-anchor="end" font-weight="normal" fill="#000" textLength="10.7" lengthAdjust="spacingAndGlyphs"><tspan>45</tspan></text>
<line x1="45.3" y1="361.12" x2="48.5" y2="361.12" stroke="#bcbcbc" stroke-width="1"/>
<text x="38.3" y="365.92" font-size="10.5" text-anchor="end" font-weight="normal" fill="#000" textLength="10.7" lengthAdjust="spacingAndGlyphs"><tspan>60</tspan></text>
<line x1="45.3" y1="349.20" x2="48.5" y2="349.20" stroke="#bcbcbc" stroke-width="1"/>
<text x="38.3" y="354.0" font-size="10.5" text-anchor="end" font-weight="normal" fill="#000" textLength="10.7" lengthAdjust="spacingAndGlyphs"><tspan>75</tspan></text>
<line x1="48.5" y1="408.8" x2="116.30" y2="408.8" stroke="#bcbcbc" stroke-width="1"/>
<line x1="48.50" y1="408.8" x2="48.50" y2="411.8" stroke="#bcbcbc" stroke-width="1"/>
<line x1="65.45" y1="408.8" x2="65.45" y2="411.8" stroke="#bcbcbc" stroke-width="1"/>
<line x1="82.40" y1="408.8" x2="82.40" y2="411.8" stroke="#bcbcbc" stroke-width="1"/>
<line x1="99.35" y1="408.8" x2="99.35" y2="411.8" stroke="#bcbcbc" stroke-width="1"/>
<line x1="116.30" y1="408.8" x2="116.30" y2="411.8" stroke="#bcbcbc" stroke-width="1"/>
<rect x="56.98" y="388.14" width="4.9" height="20.66" fill="#000"/>
<path d="M59.43 388.64L59.43 380.99M58.83 380.99L60.03 380.99" stroke="#000" stroke-width="1"/>
<rect x="69.02" y="407.61" width="4.9" height="1.19" fill="#a8a8a8"/>
<path d="M71.47 408.11L71.47 407.21M70.88 407.21L72.07 407.21" stroke="#8a8a8a" stroke-width="1"/>
<rect x="73.92" y="368.67" width="4.9" height="40.13" fill="#000"/>
<path d="M76.38 369.17L76.38 366.29M75.78 366.29L76.97 366.29" stroke="#000" stroke-width="1"/>
<rect x="85.97" y="406.42" width="4.9" height="2.38" fill="#a8a8a8"/>
<path d="M88.42 406.92L88.42 405.62M87.83 405.62L89.02 405.62" stroke="#8a8a8a" stroke-width="1"/>
<rect x="90.88" y="363.11" width="4.9" height="45.69" fill="#000"/>
<path d="M93.33 363.61L93.33 359.53M92.73 359.53L93.92 359.53" stroke="#000" stroke-width="1"/>
<rect x="102.92" y="388.93" width="4.9" height="19.87" fill="#a8a8a8"/>
<path d="M105.37 389.43L105.37 378.60M104.77 378.60L105.97 378.60" stroke="#8a8a8a" stroke-width="1"/>
<rect x="107.82" y="360.72" width="4.9" height="48.08" fill="#000"/>
<path d="M110.27 361.22L110.27 355.95M109.67 355.95L110.87 355.95" stroke="#000" stroke-width="1"/>
<circle cx="90.15" cy="354.40" r="1.15" fill="#000"/>
<circle cx="94.20" cy="354.40" r="1.15" fill="#000"/>
<circle cx="98.25" cy="354.40" r="1.15" fill="#000"/>
<circle cx="106.75" cy="347.80" r="1.15" fill="#000"/>
<circle cx="110.80" cy="347.80" r="1.15" fill="#000"/>
<circle cx="114.85" cy="347.80" r="1.15" fill="#000"/>
<text x="56.975" y="430.3" font-size="10.4" text-anchor="middle" font-weight="normal" fill="#000" textLength="5.3" lengthAdjust="spacingAndGlyphs"><tspan>0</tspan></text>
<text x="73.925" y="430.3" font-size="10.4" text-anchor="middle" font-weight="normal" fill="#000" textLength="5.3" lengthAdjust="spacingAndGlyphs"><tspan>1</tspan></text>
<text x="90.875" y="430.3" font-size="10.4" text-anchor="middle" font-weight="normal" fill="#000" textLength="5.3" lengthAdjust="spacingAndGlyphs"><tspan>5</tspan></text>
<text x="107.82499999999999" y="430.3" font-size="10.4" text-anchor="middle" font-weight="normal" fill="#000" textLength="10.6" lengthAdjust="spacingAndGlyphs"><tspan>10</tspan></text>
<text x="83.2" y="450.2" font-size="9.8" text-anchor="middle" font-weight="bold" fill="#000" textLength="62" lengthAdjust="spacingAndGlyphs"><tspan>ABT-737 (µM)</tspan></text>
<text x="0" y="0" transform="translate(18.9,420.2) rotate(-90)" font-size="10.4" text-anchor="start" font-weight="bold" fill="#000" textLength="67.5" lengthAdjust="spacingAndGlyphs"><tspan>% of dead cells</tspan></text>
<rect x="125.5" y="371" width="39" height="35.5" fill="#fff" stroke="#7a7a7a" stroke-width="1"/>
<rect x="130.1" y="378.6" width="5.3" height="5.8" fill="#8a8a8a"/>
<rect x="130.1" y="393.4" width="5.3" height="5.8" fill="#000"/>
<text x="141.5" y="385.0" font-size="10.5" text-anchor="start" font-weight="normal" fill="#000" textLength="5.3" lengthAdjust="spacingAndGlyphs"><tspan>0</tspan></text>
<text x="141.5" y="400.0" font-size="10.5" text-anchor="start" font-weight="normal" fill="#000" textLength="18" lengthAdjust="spacingAndGlyphs"><tspan>2DG</tspan></text>
<text x="87.8" y="315.2" font-size="11.3" text-anchor="middle" font-weight="normal" fill="#000" textLength="118.5" lengthAdjust="spacingAndGlyphs"><tspan>Eµ-</tspan><tspan font-style="italic">Myc/Puma</tspan><tspan font-size="7.91" dy="-5.09">-/-</tspan><tspan font-style="italic" dy="5.09">Noxa</tspan><tspan font-size="7.91" dy="-5.09">-/-</tspan></text>
<text x="87.8" y="330.0" font-size="11.3" text-anchor="middle" font-weight="normal" fill="#000" textLength="25" lengthAdjust="spacingAndGlyphs"><tspan>#683</tspan></text>
<line x1="223.5" y1="350.6" x2="223.5" y2="410.2" stroke="#bcbcbc" stroke-width="1"/>
<line x1="220.3" y1="410.20" x2="223.5" y2="410.20" stroke="#bcbcbc" stroke-width="1"/>
<text x="212.8" y="415.0" font-size="10.5" text-anchor="end" font-weight="normal" fill="#000" textLength="5.35" lengthAdjust="spacingAndGlyphs"><tspan>0</tspan></text>
<line x1="220.3" y1="398.28" x2="223.5" y2="398.28" stroke="#bcbcbc" stroke-width="1"/>
<text x="212.8" y="403.08" font-size="10.5" text-anchor="end" font-weight="normal" fill="#000" textLength="10.7" lengthAdjust="spacingAndGlyphs"><tspan>10</tspan></text>
<line x1="220.3" y1="386.36" x2="223.5" y2="386.36" stroke="#bcbcbc" stroke-width="1"/>
<text x="212.8" y="391.16" font-size="10.5" text-anchor="end" font-weight="normal" fill="#000" textLength="10.7" lengthAdjust="spacingAndGlyphs"><tspan>20</tspan></text>
<line x1="220.3" y1="374.44" x2="223.5" y2="374.44" stroke="#bcbcbc" stroke-width="1"/>
<text x="212.8" y="379.24" font-size="10.5" text-anchor="end" font-weight="normal" fill="#000" textLength="10.7" lengthAdjust="spacingAndGlyphs"><tspan>30</tspan></text>
<line x1="220.3" y1="362.52" x2="223.5" y2="362.52" stroke="#bcbcbc" stroke-width="1"/>
<text x="212.8" y="367.32000000000005" font-size="10.5" text-anchor="end" font-weight="normal" fill="#000" textLength="10.7" lengthAdjust="spacingAndGlyphs"><tspan>40</tspan></text>
<line x1="220.3" y1="350.60" x2="223.5" y2="350.60" stroke="#bcbcbc" stroke-width="1"/>
<text x="212.8" y="355.40000000000003" font-size="10.5" text-anchor="end" font-weight="normal" fill="#000" textLength="10.7" lengthAdjust="spacingAndGlyphs"><tspan>50</tspan></text>
<line x1="223.5" y1="410.2" x2="292.70" y2="410.2" stroke="#bcbcbc" stroke-width="1"/>
<line x1="223.50" y1="410.2" x2="223.50" y2="413.2" stroke="#bcbcbc" stroke-width="1"/>
<line x1="240.80" y1="410.2" x2="240.80" y2="413.2" stroke="#bcbcbc" stroke-width="1"/>
<line x1="258.10" y1="410.2" x2="258.10" y2="413.2" stroke="#bcbcbc" stroke-width="1"/>
<line x1="275.40" y1="410.2" x2="275.40" y2="413.2" stroke="#bcbcbc" stroke-width="1"/>
<line x1="292.70" y1="410.2" x2="292.70" y2="413.2" stroke="#bcbcbc" stroke-width="1"/>
<rect x="232.15" y="407.82" width="4.9" height="2.38" fill="#000"/>
<path d="M234.60 408.32L234.60 404.84M234.00 404.84L235.20 404.84" stroke="#000" stroke-width="1"/>
<rect x="244.55" y="409.01" width="4.9" height="1.19" fill="#858585"/>
<path d="M247.00 409.51L247.00 406.62M246.40 406.62L247.60 406.62" stroke="#808080" stroke-width="1"/>
<rect x="249.45" y="405.43" width="4.9" height="4.77" fill="#000"/>
<path d="M251.90 405.93L251.90 401.86M251.30 401.86L252.50 401.86" stroke="#000" stroke-width="1"/>
<rect x="261.85" y="407.82" width="4.9" height="2.38" fill="#858585"/>
<path d="M264.30 408.32L264.30 403.05M263.70 403.05L264.90 403.05" stroke="#808080" stroke-width="1"/>
<rect x="266.75" y="404.84" width="4.9" height="5.36" fill="#000"/>
<path d="M269.20 405.34L269.20 401.26M268.60 401.26L269.80 401.26" stroke="#000" stroke-width="1"/>
<rect x="279.15" y="396.49" width="4.9" height="13.71" fill="#858585"/>
<path d="M281.60 396.99L281.60 392.92M281.00 392.92L282.20 392.92" stroke="#808080" stroke-width="1"/>
<rect x="284.05" y="373.25" width="4.9" height="36.95" fill="#000"/>
<path d="M286.50 373.75L286.50 366.10M285.90 366.10L287.10 366.10" stroke="#000" stroke-width="1"/>
<circle cx="282.25" cy="360.30" r="1.15" fill="#000"/>
<circle cx="286.30" cy="360.30" r="1.15" fill="#000"/>
<circle cx="290.35" cy="360.30" r="1.15" fill="#000"/>
<text x="232.15" y="431.7" font-size="10.4" text-anchor="middle" font-weight="normal" fill="#000" textLength="5.3" lengthAdjust="spacingAndGlyphs"><tspan>0</tspan></text>
<text x="249.45" y="431.7" font-size="10.4" text-anchor="middle" font-weight="normal" fill="#000" textLength="5.3" lengthAdjust="spacingAndGlyphs"><tspan>1</tspan></text>
<text x="266.75" y="431.7" font-size="10.4" text-anchor="middle" font-weight="normal" fill="#000" textLength="5.3" lengthAdjust="spacingAndGlyphs"><tspan>5</tspan></text>
<text x="284.05" y="431.7" font-size="10.4" text-anchor="middle" font-weight="normal" fill="#000" textLength="10.6" lengthAdjust="spacingAndGlyphs"><tspan>10</tspan></text>
<text x="258.5" y="450.3" font-size="9.8" text-anchor="middle" font-weight="bold" fill="#000" textLength="62" lengthAdjust="spacingAndGlyphs"><tspan>ABT-737 (µM)</tspan></text>
<text x="0" y="0" transform="translate(193.7,421.3) rotate(-90)" font-size="10.4" text-anchor="start" font-weight="bold" fill="#000" textLength="67.5" lengthAdjust="spacingAndGlyphs"><tspan>% of dead cells</tspan></text>
<rect x="301.5" y="371" width="39.3" height="35.5" fill="#fff" stroke="#7a7a7a" stroke-width="1"/>
<rect x="306.1" y="378.6" width="5.3" height="5.8" fill="#8a8a8a"/>
<rect x="306.1" y="393.4" width="5.3" height="5.8" fill="#000"/>
<text x="317.5" y="385.0" font-size="10.5" text-anchor="start" font-weight="normal" fill="#000" textLength="5.3" lengthAdjust="spacingAndGlyphs"><tspan>0</tspan></text>
<text x="317.5" y="400.0" font-size="10.5" text-anchor="start" font-weight="normal" fill="#000" textLength="18" lengthAdjust="spacingAndGlyphs"><tspan>2DG</tspan></text>
<text x="259.0" y="315.2" font-size="11.3" text-anchor="middle" font-weight="normal" fill="#000" textLength="109.5" lengthAdjust="spacingAndGlyphs"><tspan>rv-</tspan><tspan font-style="italic">MYC/Puma</tspan><tspan font-size="7.91" dy="-5.09">-/-</tspan><tspan font-style="italic" dy="5.09">Bim</tspan><tspan font-size="7.91" dy="-5.09">-/-</tspan></text>
<text x="257.0" y="330.2" font-size="11.3" text-anchor="middle" font-weight="normal" fill="#000" textLength="24" lengthAdjust="spacingAndGlyphs"><tspan>#720</tspan></text>
<line x1="398.8" y1="350.6" x2="398.8" y2="411.2" stroke="#bcbcbc" stroke-width="1"/>
<line x1="395.6" y1="411.20" x2="398.8" y2="411.20" stroke="#bcbcbc" stroke-width="1"/>
<text x="388.5" y="416.0" font-size="10.5" text-anchor="end" font-weight="normal" fill="#000" textLength="5.35" lengthAdjust="spacingAndGlyphs"><tspan>0</tspan></text>
<line x1="395.6" y1="399.08" x2="398.8" y2="399.08" stroke="#bcbcbc" stroke-width="1"/>
<text x="388.5" y="403.88" font-size="10.5" text-anchor="end" font-weight="normal" fill="#000" textLength="10.7" lengthAdjust="spacingAndGlyphs"><tspan>10</tspan></text>
<line x1="395.6" y1="386.96" x2="398.8" y2="386.96" stroke="#bcbcbc" stroke-width="1"/>
<text x="388.5" y="391.76" font-size="10.5" text-anchor="end" font-weight="normal" fill="#000" textLength="10.7" lengthAdjust="spacingAndGlyphs"><tspan>20</tspan></text>
<line x1="395.6" y1="374.84" x2="398.8" y2="374.84" stroke="#bcbcbc" stroke-width="1"/>
<text x="388.5" y="379.64000000000004" font-size="10.5" text-anchor="end" font-weight="normal" fill="#000" textLength="10.7" lengthAdjust="spacingAndGlyphs"><tspan>30</tspan></text>
<line x1="395.6" y1="362.72" x2="398.8" y2="362.72" stroke="#bcbcbc" stroke-width="1"/>
<text x="388.5" y="367.52000000000004" font-size="10.5" text-anchor="end" font-weight="normal" fill="#000" textLength="10.7" lengthAdjust="spacingAndGlyphs"><tspan>40</tspan></text>
<line x1="395.6" y1="350.60" x2="398.8" y2="350.60" stroke="#bcbcbc" stroke-width="1"/>
<text x="388.5" y="355.40000000000003" font-size="10.5" text-anchor="end" font-weight="normal" fill="#000" textLength="10.7" lengthAdjust="spacingAndGlyphs"><tspan>50</tspan></text>
<line x1="398.8" y1="411.2" x2="463.60" y2="411.2" stroke="#bcbcbc" stroke-width="1"/>
<line x1="398.80" y1="411.2" x2="398.80" y2="414.2" stroke="#bcbcbc" stroke-width="1"/>
<line x1="415.00" y1="411.2" x2="415.00" y2="414.2" stroke="#bcbcbc" stroke-width="1"/>
<line x1="431.20" y1="411.2" x2="431.20" y2="414.2" stroke="#bcbcbc" stroke-width="1"/>
<line x1="447.40" y1="411.2" x2="447.40" y2="414.2" stroke="#bcbcbc" stroke-width="1"/>
<line x1="463.60" y1="411.2" x2="463.60" y2="414.2" stroke="#bcbcbc" stroke-width="1"/>
<rect x="406.90" y="400.05" width="4.9" height="11.15" fill="#000"/>
<path d="M409.35 400.55L409.35 397.63M408.75 397.63L409.95 397.63" stroke="#000" stroke-width="1"/>
<rect x="423.10" y="397.14" width="4.9" height="14.06" fill="#000"/>
<path d="M425.55 397.64L425.55 396.53M424.95 396.53L426.15 396.53" stroke="#000" stroke-width="1"/>
<rect x="434.40" y="410.59" width="4.9" height="0.61" fill="#7a7a7a"/>
<rect x="439.30" y="392.29" width="4.9" height="18.91" fill="#000"/>
<path d="M441.75 392.79L441.75 391.69M441.15 391.69L442.35 391.69" stroke="#000" stroke-width="1"/>
<rect x="450.60" y="395.44" width="4.9" height="15.76" fill="#7a7a7a"/>
<path d="M453.05 395.94L453.05 391.20M452.45 391.20L453.65 391.20" stroke="#808080" stroke-width="1"/>
<rect x="455.50" y="374.84" width="4.9" height="36.36" fill="#000"/>
<path d="M457.95 375.34L457.95 373.99M457.35 373.99L458.55 373.99" stroke="#000" stroke-width="1"/>
<circle cx="437.95" cy="385.60" r="1.15" fill="#000"/>
<circle cx="442.00" cy="385.60" r="1.15" fill="#000"/>
<circle cx="446.05" cy="385.60" r="1.15" fill="#000"/>
<circle cx="454.45" cy="367.00" r="1.15" fill="#000"/>
<circle cx="458.50" cy="367.00" r="1.15" fill="#000"/>
<circle cx="462.55" cy="367.00" r="1.15" fill="#000"/>
<text x="406.90000000000003" y="432.5" font-size="10.4" text-anchor="middle" font-weight="normal" fill="#000" textLength="5.3" lengthAdjust="spacingAndGlyphs"><tspan>0</tspan></text>
<text x="423.1" y="432.5" font-size="10.4" text-anchor="middle" font-weight="normal" fill="#000" textLength="5.3" lengthAdjust="spacingAndGlyphs"><tspan>1</tspan></text>
<text x="439.3" y="432.5" font-size="10.4" text-anchor="middle" font-weight="normal" fill="#000" textLength="5.3" lengthAdjust="spacingAndGlyphs"><tspan>5</tspan></text>
<text x="455.5" y="432.5" font-size="10.4" text-anchor="middle" font-weight="normal" fill="#000" textLength="10.6" lengthAdjust="spacingAndGlyphs"><tspan>10</tspan></text>
<text x="434.3" y="450.8" font-size="9.8" text-anchor="middle" font-weight="bold" fill="#000" textLength="62" lengthAdjust="spacingAndGlyphs"><tspan>ABT-737 (µM)</tspan></text>
<text x="0" y="0" transform="translate(370.0,421.3) rotate(-90)" font-size="10.4" text-anchor="start" font-weight="bold" fill="#000" textLength="67.5" lengthAdjust="spacingAndGlyphs"><tspan>% of dead cells</tspan></text>
<rect x="476.5" y="371" width="39" height="35.5" fill="#fff" stroke="#7a7a7a" stroke-width="1"/>
<rect x="481.1" y="378.6" width="5.3" height="5.8" fill="#8a8a8a"/>
<rect x="481.1" y="393.4" width="5.3" height="5.8" fill="#000"/>
<text x="492.5" y="385.0" font-size="10.5" text-anchor="start" font-weight="normal" fill="#000" textLength="5.3" lengthAdjust="spacingAndGlyphs"><tspan>0</tspan></text>
<text x="492.5" y="400.0" font-size="10.5" text-anchor="start" font-weight="normal" fill="#000" textLength="18" lengthAdjust="spacingAndGlyphs"><tspan>2DG</tspan></text>
<text x="443.0" y="307.3" font-size="11.3" text-anchor="middle" font-weight="normal" fill="#000" textLength="41" lengthAdjust="spacingAndGlyphs"><tspan>rv-</tspan><tspan font-style="italic">MYC/</tspan></text>
<text x="444.6" y="321.7" font-size="11.3" text-anchor="middle" font-weight="normal" fill="#000" textLength="102" lengthAdjust="spacingAndGlyphs"><tspan font-style="italic">Puma</tspan><tspan font-size="7.91" dy="-5.09">-/-</tspan><tspan font-style="italic" dy="5.09">Bim</tspan><tspan font-size="7.91" dy="-5.09">-/-</tspan><tspan font-style="italic" dy="5.09">Noxa</tspan><tspan font-size="7.91" dy="-5.09">-/-</tspan></text>
<text x="441.7" y="337.0" font-size="11.3" text-anchor="middle" font-weight="normal" fill="#000" textLength="25.5" lengthAdjust="spacingAndGlyphs"><tspan>#953</tspan></text>
<line x1="53.5" y1="512.4" x2="53.5" y2="571.2" stroke="#bcbcbc" stroke-width="1"/>
<line x1="50.3" y1="571.20" x2="53.5" y2="571.20" stroke="#bcbcbc" stroke-width="1"/>
<text x="42.7" y="576.0" font-size="10.5" text-anchor="end" font-weight="normal" fill="#000" textLength="5.35" lengthAdjust="spacingAndGlyphs"><tspan>0</tspan></text>
<line x1="50.3" y1="559.44" x2="53.5" y2="559.44" stroke="#bcbcbc" stroke-width="1"/>
<text x="42.7" y="564.24" font-size="10.5" text-anchor="end" font-weight="normal" fill="#000" textLength="10.7" lengthAdjust="spacingAndGlyphs"><tspan>20</tspan></text>
<line x1="50.3" y1="547.68" x2="53.5" y2="547.68" stroke="#bcbcbc" stroke-width="1"/>
<text x="42.7" y="552.48" font-size="10.5" text-anchor="end" font-weight="normal" fill="#000" textLength="10.7" lengthAdjust="spacingAndGlyphs"><tspan>40</tspan></text>
<line x1="50.3" y1="535.92" x2="53.5" y2="535.92" stroke="#bcbcbc" stroke-width="1"/>
<text x="42.7" y="540.7199999999999" font-size="10.5" text-anchor="end" font-weight="normal" fill="#000" textLength="10.7" lengthAdjust="spacingAndGlyphs"><tspan>60</tspan></text>
<line x1="50.3" y1="524.16" x2="53.5" y2="524.16" stroke="#bcbcbc" stroke-width="1"/>
<text x="42.7" y="528.9599999999999" font-size="10.5" text-anchor="end" font-weight="normal" fill="#000" textLength="10.7" lengthAdjust="spacingAndGlyphs"><tspan>80</tspan></text>
<line x1="50.3" y1="512.40" x2="53.5" y2="512.40" stroke="#bcbcbc" stroke-width="1"/>
<text x="42.7" y="517.1999999999999" font-size="10.5" text-anchor="end" font-weight="normal" fill="#000" textLength="16.049999999999997" lengthAdjust="spacingAndGlyphs"><tspan>100</tspan></text>
<line x1="53.5" y1="571.2" x2="117.10" y2="571.2" stroke="#bcbcbc" stroke-width="1"/>
<line x1="53.50" y1="571.2" x2="53.50" y2="574.2" stroke="#bcbcbc" stroke-width="1"/>
<line x1="69.40" y1="571.2" x2="69.40" y2="574.2" stroke="#bcbcbc" stroke-width="1"/>
<line x1="85.30" y1="571.2" x2="85.30" y2="574.2" stroke="#bcbcbc" stroke-width="1"/>
<line x1="101.20" y1="571.2" x2="101.20" y2="574.2" stroke="#bcbcbc" stroke-width="1"/>
<line x1="117.10" y1="571.2" x2="117.10" y2="574.2" stroke="#bcbcbc" stroke-width="1"/>
<rect x="60.85" y="570.96" width="4.9" height="0.24" fill="#000"/>
<path d="M63.30 571.46L63.30 569.79M62.70 569.79L63.90 569.79" stroke="#000" stroke-width="1"/>
<rect x="71.85" y="569.14" width="4.9" height="2.06" fill="#858585"/>
<path d="M74.30 569.64L74.30 567.97M73.70 567.97L74.90 567.97" stroke="#808080" stroke-width="1"/>
<rect x="76.75" y="567.08" width="4.9" height="4.12" fill="#000"/>
<path d="M79.20 567.58L79.20 564.14M78.60 564.14L79.80 564.14" stroke="#000" stroke-width="1"/>
<rect x="87.75" y="567.38" width="4.9" height="3.82" fill="#858585"/>
<path d="M90.20 567.88L90.20 565.03M89.60 565.03L90.80 565.03" stroke="#808080" stroke-width="1"/>
<rect x="92.65" y="554.74" width="4.9" height="16.46" fill="#000"/>
<path d="M95.10 555.24L95.10 547.68M94.50 547.68L95.70 547.68" stroke="#000" stroke-width="1"/>
<rect x="103.65" y="558.85" width="4.9" height="12.35" fill="#858585"/>
<path d="M106.10 559.35L106.10 552.38M105.50 552.38L106.70 552.38" stroke="#808080" stroke-width="1"/>
<rect x="108.55" y="521.51" width="4.9" height="49.69" fill="#000"/>
<path d="M111.00 522.01L111.00 517.69M110.40 517.69L111.60 517.69" stroke="#000" stroke-width="1"/>
<circle cx="91.15" cy="541.70" r="1.15" fill="#000"/>
<circle cx="95.20" cy="541.70" r="1.15" fill="#000"/>
<circle cx="99.25" cy="541.70" r="1.15" fill="#000"/>
<circle cx="106.95" cy="511.50" r="1.15" fill="#000"/>
<circle cx="111.00" cy="511.50" r="1.15" fill="#000"/>
<circle cx="115.05" cy="511.50" r="1.15" fill="#000"/>
<text x="61.45" y="592.5" font-size="10.4" text-anchor="middle" font-weight="normal" fill="#000" textLength="5.3" lengthAdjust="spacingAndGlyphs"><tspan>0</tspan></text>
<text x="77.35" y="592.5" font-size="10.4" text-anchor="middle" font-weight="normal" fill="#000" textLength="5.3" lengthAdjust="spacingAndGlyphs"><tspan>1</tspan></text>
<text x="93.25" y="592.5" font-size="10.4" text-anchor="middle" font-weight="normal" fill="#000" textLength="5.3" lengthAdjust="spacingAndGlyphs"><tspan>5</tspan></text>
<text x="109.15" y="592.5" font-size="10.4" text-anchor="middle" font-weight="normal" fill="#000" textLength="10.6" lengthAdjust="spacingAndGlyphs"><tspan>10</tspan></text>
<text x="87.4" y="611.2" font-size="9.8" text-anchor="middle" font-weight="bold" fill="#000" textLength="62" lengthAdjust="spacingAndGlyphs"><tspan>ABT-737 (µM)</tspan></text>
<text x="0" y="0" transform="translate(17.2,583) rotate(-90)" font-size="10.4" text-anchor="start" font-weight="bold" fill="#000" textLength="67.5" lengthAdjust="spacingAndGlyphs"><tspan>% of dead cells</tspan></text>
<rect x="126.8" y="528.6" width="39.3" height="35.6" fill="#fff" stroke="#7a7a7a" stroke-width="1"/>
<rect x="131.4" y="536.2" width="5.3" height="5.8" fill="#8a8a8a"/>
<rect x="131.4" y="551.0" width="5.3" height="5.8" fill="#000"/>
<text x="142.8" y="542.0" font-size="10.5" text-anchor="start" font-weight="normal" fill="#000" textLength="5.3" lengthAdjust="spacingAndGlyphs"><tspan>0</tspan></text>
<text x="142.8" y="557.0" font-size="10.5" text-anchor="start" font-weight="normal" fill="#000" textLength="17" lengthAdjust="spacingAndGlyphs"><tspan>LND</tspan></text>
<text x="87.8" y="484.5" font-size="11.3" text-anchor="middle" font-weight="normal" fill="#000" textLength="118.3" lengthAdjust="spacingAndGlyphs"><tspan>Eµ-</tspan><tspan font-style="italic">Myc/Puma</tspan><tspan font-size="7.91" dy="-5.09">-/-</tspan><tspan font-style="italic" dy="5.09">Noxa</tspan><tspan font-size="7.91" dy="-5.09">-/-</tspan></text>
<text x="87.5" y="500.0" font-size="11.3" text-anchor="middle" font-weight="normal" fill="#000" textLength="24.5" lengthAdjust="spacingAndGlyphs"><tspan>#683</tspan></text>
<line x1="224.0" y1="510.6" x2="224.0" y2="570.8" stroke="#bcbcbc" stroke-width="1"/>
<line x1="220.8" y1="570.80" x2="224.0" y2="570.80" stroke="#bcbcbc" stroke-width="1"/>
<text x="214.2" y="575.5999999999999" font-size="10.5" text-anchor="end" font-weight="normal" fill="#000" textLength="5.35" lengthAdjust="spacingAndGlyphs"><tspan>0</tspan></text>
<line x1="220.8" y1="558.76" x2="224.0" y2="558.76" stroke="#bcbcbc" stroke-width="1"/>
<text x="214.2" y="563.56" font-size="10.5" text-anchor="end" font-weight="normal" fill="#000" textLength="10.7" lengthAdjust="spacingAndGlyphs"><tspan>20</tspan></text>
<line x1="220.8" y1="546.72" x2="224.0" y2="546.72" stroke="#bcbcbc" stroke-width="1"/>
<text x="214.2" y="551.52" font-size="10.5" text-anchor="end" font-weight="normal" fill="#000" textLength="10.7" lengthAdjust="spacingAndGlyphs"><tspan>40</tspan></text>
<line x1="220.8" y1="534.68" x2="224.0" y2="534.68" stroke="#bcbcbc" stroke-width="1"/>
<text x="214.2" y="539.4799999999999" font-size="10.5" text-anchor="end" font-weight="normal" fill="#000" textLength="10.7" lengthAdjust="spacingAndGlyphs"><tspan>60</tspan></text>
<line x1="220.8" y1="522.64" x2="224.0" y2="522.64" stroke="#bcbcbc" stroke-width="1"/>
<text x="214.2" y="527.4399999999999" font-size="10.5" text-anchor="end" font-weight="normal" fill="#000" textLength="10.7" lengthAdjust="spacingAndGlyphs"><tspan>80</tspan></text>
<line x1="220.8" y1="510.60" x2="224.0" y2="510.60" stroke="#bcbcbc" stroke-width="1"/>
<text x="214.2" y="515.4" font-size="10.5" text-anchor="end" font-weight="normal" fill="#000" textLength="16.049999999999997" lengthAdjust="spacingAndGlyphs"><tspan>100</tspan></text>
<line x1="224.0" y1="570.8" x2="293.20" y2="570.8" stroke="#bcbcbc" stroke-width="1"/>
<line x1="224.00" y1="570.8" x2="224.00" y2="573.8" stroke="#bcbcbc" stroke-width="1"/>
<line x1="241.30" y1="570.8" x2="241.30" y2="573.8" stroke="#bcbcbc" stroke-width="1"/>
<line x1="258.60" y1="570.8" x2="258.60" y2="573.8" stroke="#bcbcbc" stroke-width="1"/>
<line x1="275.90" y1="570.8" x2="275.90" y2="573.8" stroke="#bcbcbc" stroke-width="1"/>
<line x1="293.20" y1="570.8" x2="293.20" y2="573.8" stroke="#bcbcbc" stroke-width="1"/>
<rect x="232.65" y="568.69" width="4.9" height="2.11" fill="#000"/>
<path d="M235.10 569.19L235.10 565.08M234.50 565.08L235.70 565.08" stroke="#000" stroke-width="1"/>
<rect x="245.05" y="570.20" width="4.9" height="0.60" fill="#858585"/>
<path d="M247.50 570.70L247.50 569.29M246.90 569.29L248.10 569.29" stroke="#808080" stroke-width="1"/>
<rect x="249.95" y="567.19" width="4.9" height="3.61" fill="#000"/>
<path d="M252.40 567.69L252.40 564.48M251.80 564.48L253.00 564.48" stroke="#000" stroke-width="1"/>
<rect x="262.35" y="570.08" width="4.9" height="0.72" fill="#858585"/>
<path d="M264.80 570.58L264.80 569.48M264.20 569.48L265.40 569.48" stroke="#808080" stroke-width="1"/>
<rect x="267.25" y="560.57" width="4.9" height="10.23" fill="#000"/>
<path d="M269.70 561.07L269.70 555.75M269.10 555.75L270.30 555.75" stroke="#000" stroke-width="1"/>
<rect x="279.65" y="541.90" width="4.9" height="28.90" fill="#858585"/>
<path d="M282.10 542.40L282.10 535.88M281.50 535.88L282.70 535.88" stroke="#808080" stroke-width="1"/>
<rect x="284.55" y="523.84" width="4.9" height="46.96" fill="#000"/>
<path d="M287.00 524.34L287.00 517.22M286.40 517.22L287.60 517.22" stroke="#000" stroke-width="1"/>
<circle cx="266.15" cy="551.00" r="1.15" fill="#000"/>
<circle cx="270.20" cy="551.00" r="1.15" fill="#000"/>
<circle cx="274.25" cy="551.00" r="1.15" fill="#000"/>
<circle cx="283.45" cy="510.80" r="1.15" fill="#000"/>
<circle cx="287.50" cy="510.80" r="1.15" fill="#000"/>
<circle cx="291.55" cy="510.80" r="1.15" fill="#000"/>
<text x="232.65" y="592.3000000000001" font-size="10.4" text-anchor="middle" font-weight="normal" fill="#000" textLength="5.3" lengthAdjust="spacingAndGlyphs"><tspan>0</tspan></text>
<text x="249.95" y="592.3000000000001" font-size="10.4" text-anchor="middle" font-weight="normal" fill="#000" textLength="5.3" lengthAdjust="spacingAndGlyphs"><tspan>1</tspan></text>
<text x="267.25" y="592.3000000000001" font-size="10.4" text-anchor="middle" font-weight="normal" fill="#000" textLength="5.3" lengthAdjust="spacingAndGlyphs"><tspan>5</tspan></text>
<text x="284.55" y="592.3000000000001" font-size="10.4" text-anchor="middle" font-weight="normal" fill="#000" textLength="10.6" lengthAdjust="spacingAndGlyphs"><tspan>10</tspan></text>
<text x="259.2" y="611.0" font-size="9.8" text-anchor="middle" font-weight="bold" fill="#000" textLength="62" lengthAdjust="spacingAndGlyphs"><tspan>ABT-737 (µM)</tspan></text>
<text x="0" y="0" transform="translate(187.5,581.5) rotate(-90)" font-size="10.4" text-anchor="start" font-weight="bold" fill="#000" textLength="67.5" lengthAdjust="spacingAndGlyphs"><tspan>% of dead cells</tspan></text>
<rect x="303.5" y="528.6" width="40" height="35.6" fill="#fff" stroke="#7a7a7a" stroke-width="1"/>
<rect x="308.1" y="536.2" width="5.3" height="5.8" fill="#8a8a8a"/>
<rect x="308.1" y="551.0" width="5.3" height="5.8" fill="#000"/>
<text x="319.5" y="542.0" font-size="10.5" text-anchor="start" font-weight="normal" fill="#000" textLength="5.3" lengthAdjust="spacingAndGlyphs"><tspan>0</tspan></text>
<text x="319.5" y="557.0" font-size="10.5" text-anchor="start" font-weight="normal" fill="#000" textLength="17.3" lengthAdjust="spacingAndGlyphs"><tspan>LND</tspan></text>
<text x="258.8" y="484.2" font-size="11.3" text-anchor="middle" font-weight="normal" fill="#000" textLength="110" lengthAdjust="spacingAndGlyphs"><tspan>rv-</tspan><tspan font-style="italic">MYC/Puma</tspan><tspan font-size="7.91" dy="-5.09">-/-</tspan><tspan font-style="italic" dy="5.09">Bim</tspan><tspan font-size="7.91" dy="-5.09">-/-</tspan></text>
<text x="256.9" y="499.3" font-size="11.3" text-anchor="middle" font-weight="normal" fill="#000" textLength="24.3" lengthAdjust="spacingAndGlyphs"><tspan>#720</tspan></text>
<line x1="400.8" y1="513.0" x2="400.8" y2="571.5" stroke="#bcbcbc" stroke-width="1"/>
<line x1="397.6" y1="571.50" x2="400.8" y2="571.50" stroke="#bcbcbc" stroke-width="1"/>
<text x="390.3" y="576.3" font-size="10.5" text-anchor="end" font-weight="normal" fill="#000" textLength="5.35" lengthAdjust="spacingAndGlyphs"><tspan>0</tspan></text>
<line x1="397.6" y1="559.80" x2="400.8" y2="559.80" stroke="#bcbcbc" stroke-width="1"/>
<text x="390.3" y="564.5999999999999" font-size="10.5" text-anchor="end" font-weight="normal" fill="#000" textLength="10.7" lengthAdjust="spacingAndGlyphs"><tspan>20</tspan></text>
<line x1="397.6" y1="548.10" x2="400.8" y2="548.10" stroke="#bcbcbc" stroke-width="1"/>
<text x="390.3" y="552.9" font-size="10.5" text-anchor="end" font-weight="normal" fill="#000" textLength="10.7" lengthAdjust="spacingAndGlyphs"><tspan>40</tspan></text>
<line x1="397.6" y1="536.40" x2="400.8" y2="536.40" stroke="#bcbcbc" stroke-width="1"/>
<text x="390.3" y="541.1999999999999" font-size="10.5" text-anchor="end" font-weight="normal" fill="#000" textLength="10.7" lengthAdjust="spacingAndGlyphs"><tspan>60</tspan></text>
<line x1="397.6" y1="524.70" x2="400.8" y2="524.70" stroke="#bcbcbc" stroke-width="1"/>
<text x="390.3" y="529.5" font-size="10.5" text-anchor="end" font-weight="normal" fill="#000" textLength="10.7" lengthAdjust="spacingAndGlyphs"><tspan>80</tspan></text>
<line x1="397.6" y1="513.00" x2="400.8" y2="513.00" stroke="#bcbcbc" stroke-width="1"/>
<text x="390.3" y="517.8" font-size="10.5" text-anchor="end" font-weight="normal" fill="#000" textLength="16.049999999999997" lengthAdjust="spacingAndGlyphs"><tspan>100</tspan></text>
<line x1="400.8" y1="571.5" x2="468.00" y2="571.5" stroke="#bcbcbc" stroke-width="1"/>
<line x1="400.80" y1="571.5" x2="400.80" y2="574.5" stroke="#bcbcbc" stroke-width="1"/>
<line x1="417.60" y1="571.5" x2="417.60" y2="574.5" stroke="#bcbcbc" stroke-width="1"/>
<line x1="434.40" y1="571.5" x2="434.40" y2="574.5" stroke="#bcbcbc" stroke-width="1"/>
<line x1="451.20" y1="571.5" x2="451.20" y2="574.5" stroke="#bcbcbc" stroke-width="1"/>
<line x1="468.00" y1="571.5" x2="468.00" y2="574.5" stroke="#bcbcbc" stroke-width="1"/>
<rect x="408.80" y="570.33" width="4.9" height="1.17" fill="#000"/>
<path d="M411.25 570.83L411.25 566.24M410.65 566.24L411.85 566.24" stroke="#000" stroke-width="1"/>
<rect x="425.60" y="569.75" width="4.9" height="1.75" fill="#000"/>
<path d="M428.05 570.25L428.05 566.24M427.45 566.24L428.65 566.24" stroke="#000" stroke-width="1"/>
<rect x="437.50" y="567.70" width="4.9" height="3.80" fill="#858585"/>
<path d="M439.95 568.20L439.95 563.60M439.35 563.60L440.55 563.60" stroke="#808080" stroke-width="1"/>
<rect x="442.40" y="551.02" width="4.9" height="20.47" fill="#000"/>
<path d="M444.85 551.52L444.85 543.42M444.25 543.42L445.45 543.42" stroke="#000" stroke-width="1"/>
<rect x="454.30" y="548.68" width="4.9" height="22.81" fill="#858585"/>
<path d="M456.75 549.18L456.75 542.25M456.15 542.25L457.35 542.25" stroke="#808080" stroke-width="1"/>
<rect x="459.20" y="522.71" width="4.9" height="48.79" fill="#000"/>
<path d="M461.65 523.21L461.65 520.96M461.05 520.96L462.25 520.96" stroke="#000" stroke-width="1"/>
<circle cx="441.35" cy="538.60" r="1.15" fill="#000"/>
<circle cx="445.40" cy="538.60" r="1.15" fill="#000"/>
<circle cx="449.45" cy="538.60" r="1.15" fill="#000"/>
<circle cx="457.25" cy="515.50" r="1.15" fill="#000"/>
<circle cx="461.30" cy="515.50" r="1.15" fill="#000"/>
<circle cx="465.35" cy="515.50" r="1.15" fill="#000"/>
<text x="409.2" y="593.2" font-size="10.4" text-anchor="middle" font-weight="normal" fill="#000" textLength="5.3" lengthAdjust="spacingAndGlyphs"><tspan>0</tspan></text>
<text x="426.0" y="593.2" font-size="10.4" text-anchor="middle" font-weight="normal" fill="#000" textLength="5.3" lengthAdjust="spacingAndGlyphs"><tspan>1</tspan></text>
<text x="442.8" y="593.2" font-size="10.4" text-anchor="middle" font-weight="normal" fill="#000" textLength="5.3" lengthAdjust="spacingAndGlyphs"><tspan>5</tspan></text>
<text x="459.6" y="593.2" font-size="10.4" text-anchor="middle" font-weight="normal" fill="#000" textLength="10.6" lengthAdjust="spacingAndGlyphs"><tspan>10</tspan></text>
<text x="434.6" y="612.8" font-size="9.8" text-anchor="middle" font-weight="bold" fill="#000" textLength="62" lengthAdjust="spacingAndGlyphs"><tspan>ABT-737 (µM)</tspan></text>
<text x="0" y="0" transform="translate(364.7,581.7) rotate(-90)" font-size="10.4" text-anchor="start" font-weight="bold" fill="#000" textLength="67.5" lengthAdjust="spacingAndGlyphs"><tspan>% of dead cells</tspan></text>
<rect x="479.2" y="528.7" width="39.5" height="35.6" fill="#fff" stroke="#7a7a7a" stroke-width="1"/>
<rect x="483.8" y="536.3000000000001" width="5.3" height="5.8" fill="#8a8a8a"/>
<rect x="483.8" y="551.1" width="5.3" height="5.8" fill="#000"/>
<text x="495.2" y="542.1" font-size="10.5" text-anchor="start" font-weight="normal" fill="#000" textLength="5.3" lengthAdjust="spacingAndGlyphs"><tspan>0</tspan></text>
<text x="495.2" y="557.1" font-size="10.5" text-anchor="start" font-weight="normal" fill="#000" textLength="17.3" lengthAdjust="spacingAndGlyphs"><tspan>LND</tspan></text>
<text x="443.7" y="477.3" font-size="11.3" text-anchor="middle" font-weight="normal" fill="#000" textLength="40" lengthAdjust="spacingAndGlyphs"><tspan>rv-</tspan><tspan font-style="italic">MYC/</tspan></text>
<text x="443.5" y="492.7" font-size="11.3" text-anchor="middle" font-weight="normal" fill="#000" textLength="101.5" lengthAdjust="spacingAndGlyphs"><tspan font-style="italic">Puma</tspan><tspan font-size="7.91" dy="-5.09">-/-</tspan><tspan font-style="italic" dy="5.09">Bim</tspan><tspan font-size="7.91" dy="-5.09">-/-</tspan><tspan font-style="italic" dy="5.09">Noxa</tspan><tspan font-size="7.91" dy="-5.09">-/-</tspan></text>
<text x="443.7" y="507.3" font-size="11.3" text-anchor="middle" font-weight="normal" fill="#000" textLength="25" lengthAdjust="spacingAndGlyphs"><tspan>#953</tspan></text>
</svg>
</body></html>
